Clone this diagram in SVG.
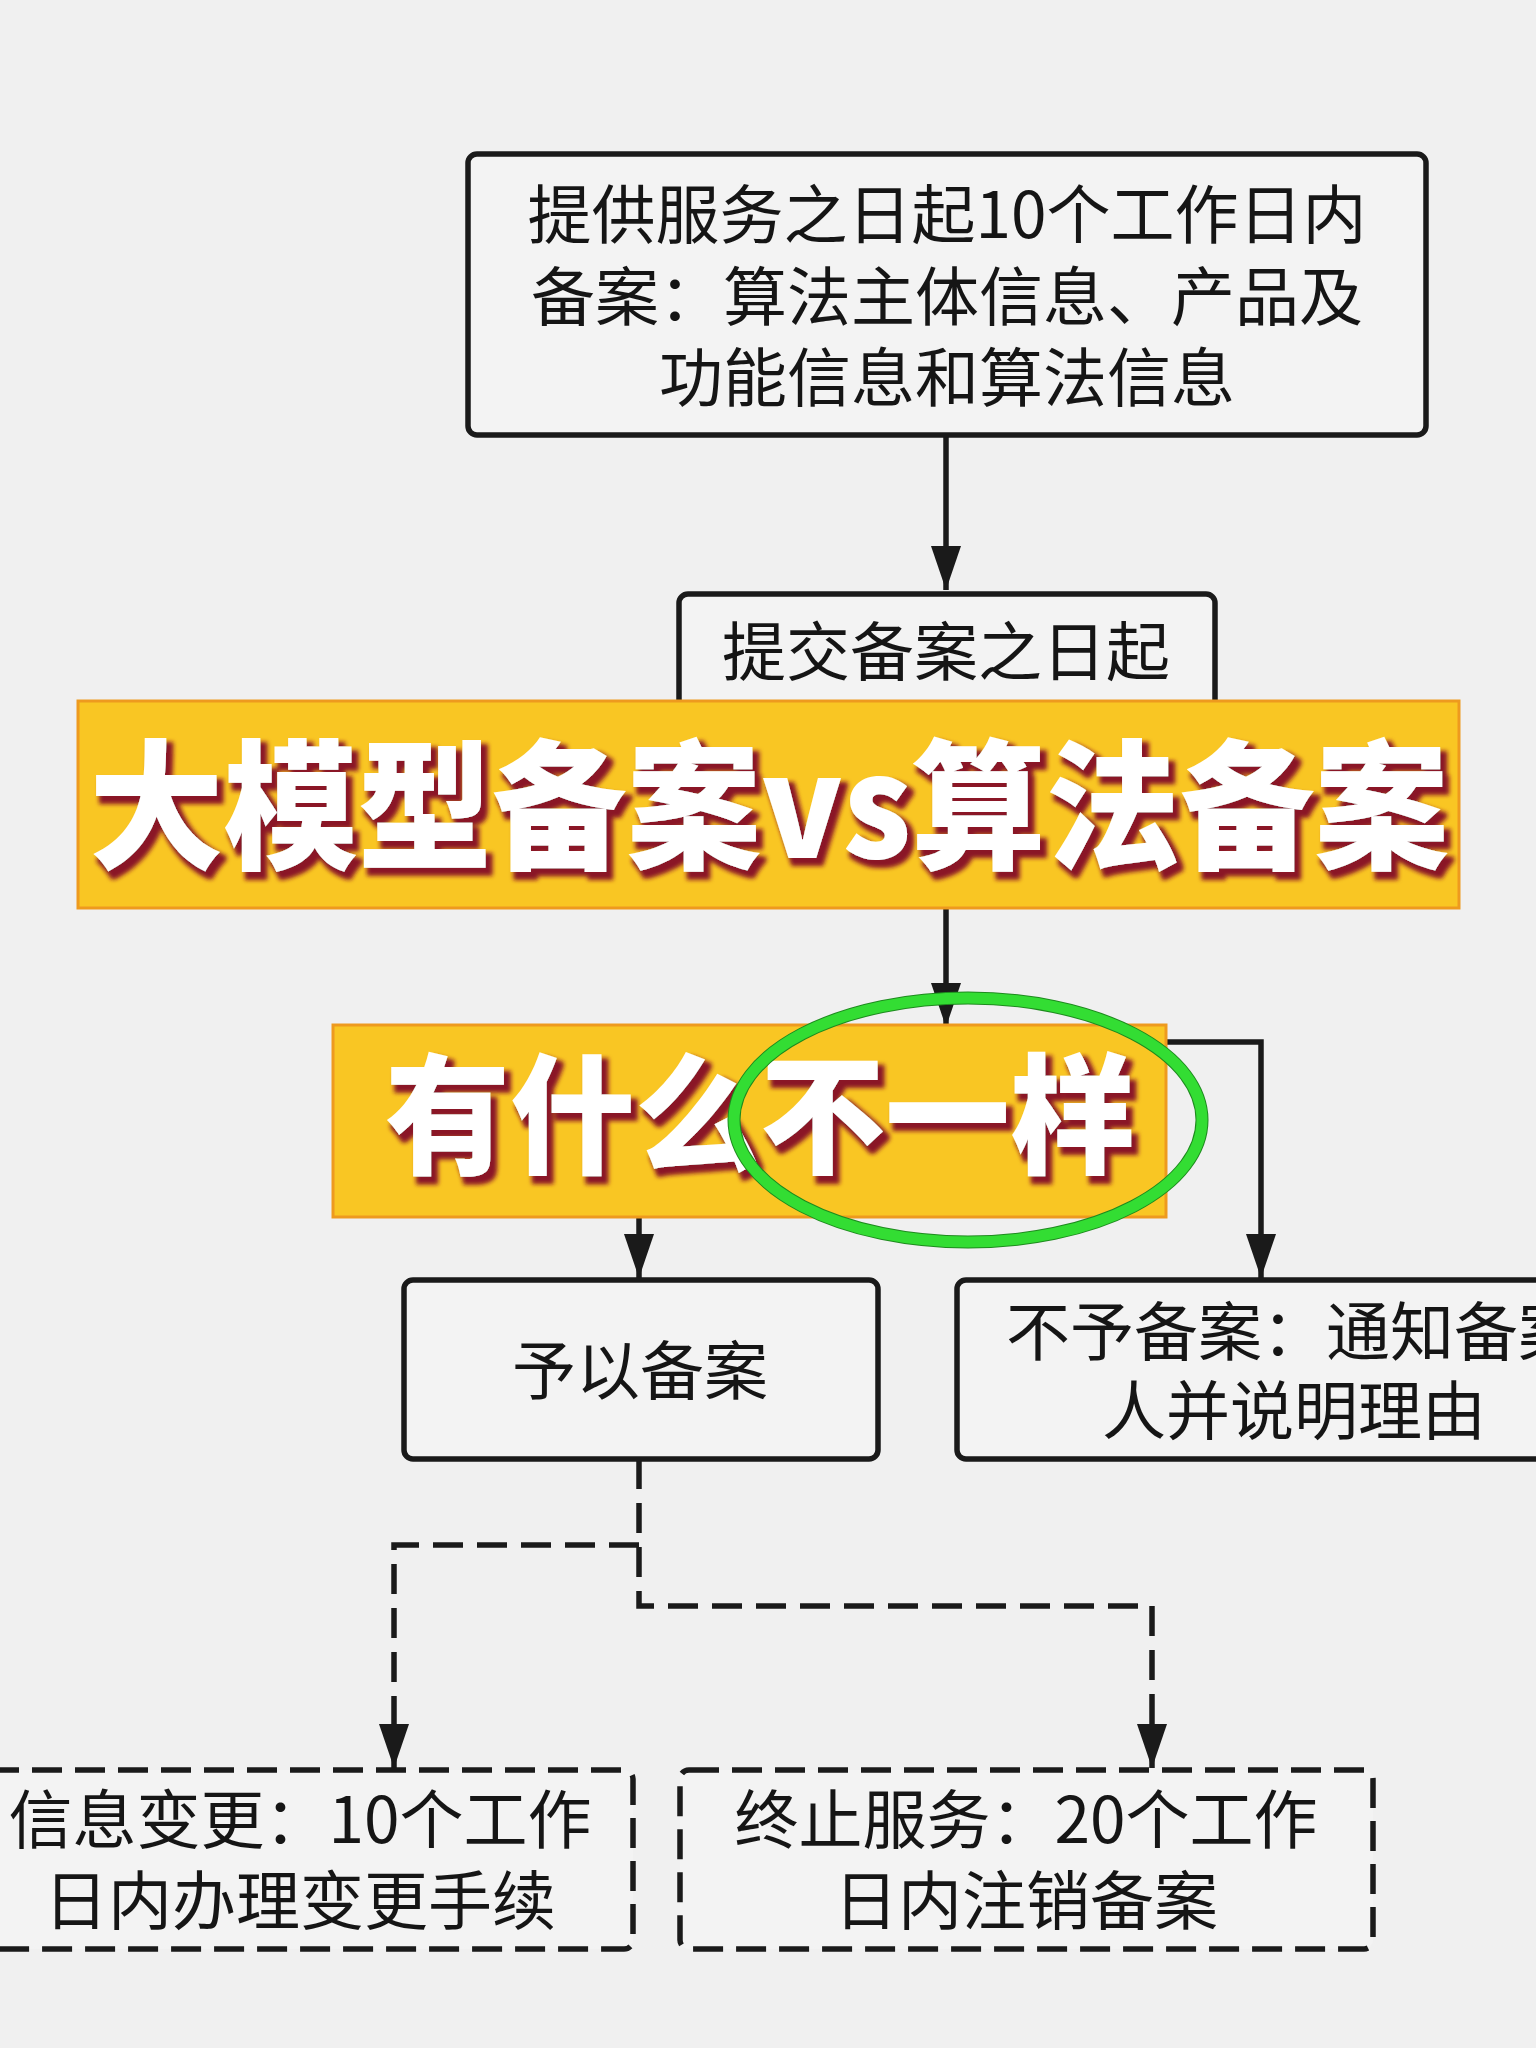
<svg xmlns="http://www.w3.org/2000/svg" width="1536" height="2048" viewBox="0 0 1536 2048">
<defs>
<style>
.box{fill:#F3F3F3;stroke:#1A1A1A;stroke-width:5.5}
.dbox{fill:#F3F3F3;stroke:#1A1A1A;stroke-width:5.5;stroke-dasharray:30 13}
.t{font-family:"Noto Sans CJK SC","Noto Sans",sans-serif;font-size:64px;fill:#151515;text-anchor:middle}
.line{fill:none;stroke:#1A1A1A;stroke-width:5.5}
.dline{fill:none;stroke:#1A1A1A;stroke-width:5.5;stroke-dasharray:30 14}
.banner{fill:#F9C623;stroke:#EE9A1E;stroke-width:3}
.big{font-family:"Noto Sans CJK SC","Noto Sans",sans-serif;font-weight:900;text-anchor:middle;fill:#FFFFFF}
</style>
<marker id="arrd" viewBox="0 0 44 30" refX="44" refY="15" markerWidth="44" markerHeight="30" markerUnits="userSpaceOnUse" orient="auto">
<path d="M0,0 L44,15 L0,30 Z" fill="#1A1A1A"/>
</marker>
<filter id="sh" x="-5%" y="-20%" width="115%" height="150%">
<feMorphology in="SourceAlpha" operator="dilate" radius="2" result="d"/>
<feOffset in="d" dx="5" dy="6" result="o"/>
<feFlood flood-color="#8A1826"/>
<feComposite in2="o" operator="in" result="s"/>
<feGaussianBlur in="s" stdDeviation="2" result="sb"/>
<feMerge><feMergeNode in="sb"/><feMergeNode in="SourceGraphic"/></feMerge>
</filter>
</defs>
<rect x="0" y="0" width="1536" height="2048" fill="#F0F0F0"/>

<g id="connectors">
<path class="line" d="M946,435 V590" marker-end="url(#arrd)"/>
<path class="line" d="M946,908 V1027" marker-end="url(#arrd)"/>
<path class="line" d="M1166,1042 H1261 V1278" marker-end="url(#arrd)"/>
<path class="line" d="M639,1217 V1278" marker-end="url(#arrd)"/>
<path class="dline" d="M639,1459 V1606 H1152 V1768" marker-end="url(#arrd)"/>
<path class="dline" d="M639,1545 H394 V1768" marker-end="url(#arrd)"/>
</g>

<g id="node-provide">
<rect class="box" x="468" y="154" width="958" height="281" rx="9"/>
<text class="t" x="947" y="238">提供服务之日起10个工作日内</text>
<text class="t" x="947" y="320">备案：算法主体信息、产品及</text>
<text class="t" x="947" y="401">功能信息和算法信息</text>
</g>

<g id="node-submit">
<rect class="box" x="679" y="594" width="536" height="160" rx="9"/>
<text class="t" x="946" y="675">提交备案之日起</text>
</g>

<g id="node-approve">
<rect class="box" x="404" y="1280" width="474" height="179" rx="9"/>
<text class="t" x="640" y="1394">予以备案</text>
</g>

<g id="node-reject">
<rect class="box" x="957" y="1280" width="680" height="179" rx="9"/>
<text class="t" x="1294" y="1355">不予备案：通知备案</text>
<text class="t" x="1294" y="1434">人并说明理由</text>
</g>

<g id="node-change">
<rect class="dbox" x="-20" y="1770" width="653" height="179" rx="9"/>
<text class="t" x="300" y="1843">信息变更：10个工作</text>
<text class="t" x="300" y="1924">日内办理变更手续</text>
</g>

<g id="node-terminate">
<rect class="dbox" x="680" y="1770" width="693" height="179" rx="9"/>
<text class="t" x="1026" y="1843">终止服务：20个工作</text>
<text class="t" x="1026" y="1924">日内注销备案</text>
</g>

<g id="title-banner">
<rect class="banner" x="78" y="701" width="1381" height="207"/>
<text class="big" x="769" y="858" font-size="140" textLength="1360" lengthAdjust="spacingAndGlyphs" filter="url(#sh)">大模型备案vs算法备案</text>
</g>

<g id="subtitle-banner">
<rect class="banner" x="333" y="1025" width="833" height="192"/>
<text class="big" x="760" y="1163" font-size="130" textLength="750" lengthAdjust="spacingAndGlyphs" filter="url(#sh)">有什么不一样</text>
</g>

<g id="highlight-circle">
<ellipse cx="968" cy="1120" rx="234" ry="122" fill="none" stroke="#1E8A1E" stroke-width="13"/>
<ellipse cx="968" cy="1120" rx="234" ry="122" fill="none" stroke="#33DD33" stroke-width="11"/>
</g>
</svg>
